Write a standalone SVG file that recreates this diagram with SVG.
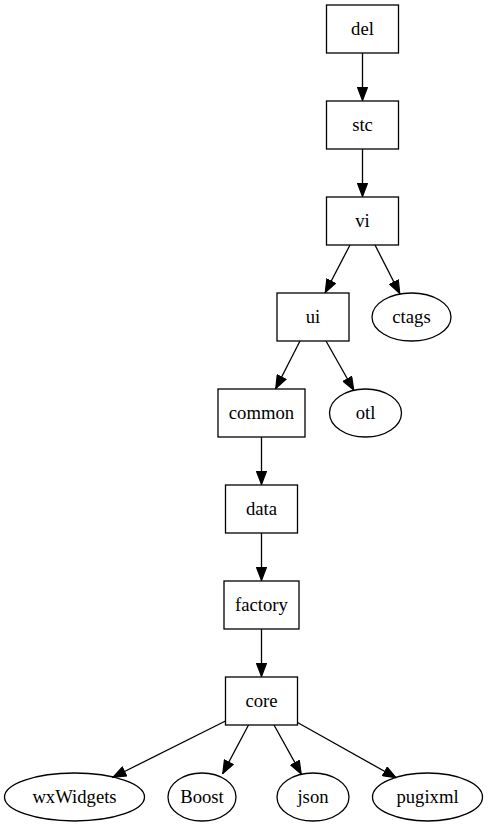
<svg xmlns="http://www.w3.org/2000/svg" width="488" height="827" viewBox="0 0 488 827">
<style>
.n rect,.n ellipse{fill:none;stroke:#000;stroke-width:1.3}
.n text{font-family:"Liberation Serif","Times New Roman",serif;font-size:18.67px;text-anchor:middle;fill:#000}
.e line{stroke:#000;stroke-width:1.3}
</style>
<defs>
<marker id="ah" markerUnits="userSpaceOnUse" markerWidth="14" markerHeight="11" viewBox="0 0 14 11" refX="14" refY="5.5" orient="auto">
<path d="M0.6,0.6 L13.4,5.5 L0.6,10.4 Z" fill="#000" stroke="#000" stroke-width="1.2"/>
</marker>
</defs>
<rect width="488" height="827" fill="#fff"/>
<g id="edges" class="e">
<line x1="362.5" y1="53" x2="362.5" y2="101" marker-end="url(#ah)"/>
<line x1="362.5" y1="149" x2="362.5" y2="197" marker-end="url(#ah)"/>
<line x1="350" y1="245" x2="325" y2="293" marker-end="url(#ah)"/>
<line x1="375" y1="245" x2="400" y2="294" marker-end="url(#ah)"/>
<line x1="300" y1="341" x2="275.5" y2="389" marker-end="url(#ah)"/>
<line x1="326" y1="341" x2="354" y2="390.5" marker-end="url(#ah)"/>
<line x1="261.5" y1="437" x2="261.5" y2="485" marker-end="url(#ah)"/>
<line x1="261.5" y1="533" x2="261.5" y2="581" marker-end="url(#ah)"/>
<line x1="261.5" y1="629" x2="261.5" y2="677" marker-end="url(#ah)"/>
<line x1="225.5" y1="721" x2="112.5" y2="777.5" marker-end="url(#ah)"/>
<line x1="248.5" y1="725" x2="222.5" y2="774" marker-end="url(#ah)"/>
<line x1="274" y1="725" x2="301.5" y2="774.5" marker-end="url(#ah)"/>
<line x1="297.5" y1="722.5" x2="396.5" y2="778" marker-end="url(#ah)"/>
</g>
<g id="del" class="n"><rect x="326.5" y="5" width="72" height="48"/><text x="362.5" y="35">del</text></g>
<g id="stc" class="n"><rect x="326.5" y="101" width="72" height="48"/><text x="362.5" y="131">stc</text></g>
<g id="vi" class="n"><rect x="326.5" y="197" width="72" height="48"/><text x="362.5" y="227">vi</text></g>
<g id="ui" class="n"><rect x="277" y="293" width="72" height="48"/><text x="313" y="323">ui</text></g>
<g id="ctags" class="n"><ellipse cx="411.5" cy="317" rx="39.5" ry="24"/><text x="411.5" y="323">ctags</text></g>
<g id="common" class="n"><rect x="218" y="389" width="87" height="48"/><text x="261.5" y="419">common</text></g>
<g id="otl" class="n"><ellipse cx="365.5" cy="413" rx="36" ry="24"/><text x="365.5" y="419">otl</text></g>
<g id="data" class="n"><rect x="225.5" y="485" width="72" height="48"/><text x="261.5" y="515">data</text></g>
<g id="factory" class="n"><rect x="224" y="581" width="75" height="48"/><text x="261.5" y="611">factory</text></g>
<g id="core" class="n"><rect x="225.5" y="677" width="72" height="48"/><text x="261.5" y="707">core</text></g>
<g id="wxWidgets" class="n"><ellipse cx="74.5" cy="797" rx="70" ry="24"/><text x="74.5" y="803">wxWidgets</text></g>
<g id="Boost" class="n"><ellipse cx="202" cy="797" rx="34" ry="24"/><text x="202" y="803">Boost</text></g>
<g id="json" class="n"><ellipse cx="313" cy="797" rx="36" ry="24"/><text x="313" y="803">json</text></g>
<g id="pugixml" class="n"><ellipse cx="427.5" cy="797" rx="55" ry="24"/><text x="427.5" y="803">pugixml</text></g>
</svg>
